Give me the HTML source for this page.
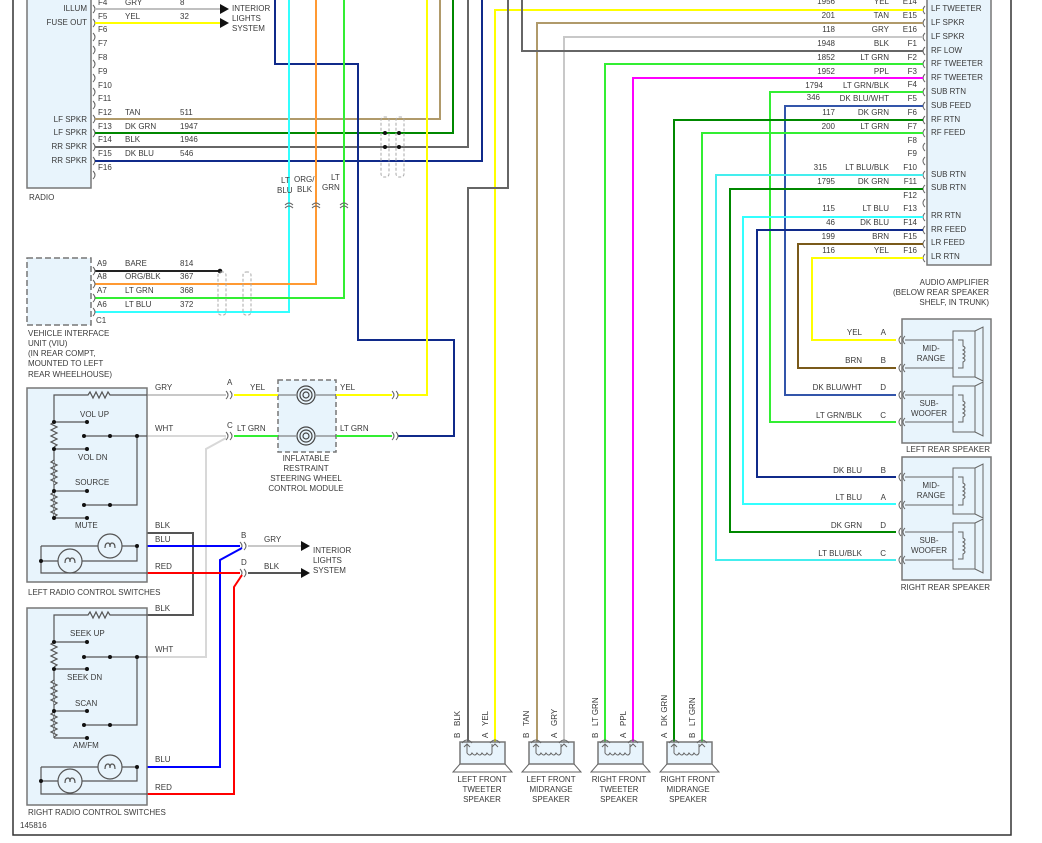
<!DOCTYPE html>
<html><head><meta charset="utf-8"><style>
html,body{margin:0;padding:0;background:#fff;}
svg{display:block;}
text{font-family:"Liberation Sans",sans-serif;font-size:8px;fill:#3a3a3a;}
.w{fill:none;stroke-width:2;}
.g{fill:none;stroke:#666;stroke-width:1;}
.pin{fill:none;stroke:#666;stroke-width:1;}
.box{fill:#e8f4fc;stroke:#777;stroke-width:1.5;}
.r{text-anchor:end;}
.m{text-anchor:middle;}
</style></head><body>
<svg width="1042" height="843" viewBox="0 0 1042 843" xmlns="http://www.w3.org/2000/svg">
<!-- frame -->
<path d="M13,0 V835 H1011 V0" fill="none" stroke="#333" stroke-width="1.5"/>

<!-- RADIO -->
<rect x="27" y="-5" width="64" height="193" class="box"/>
<text x="87" y="11" class="r">ILLUM</text>
<text x="87" y="25" class="r">FUSE OUT</text>
<text x="87" y="122" class="r">LF SPKR</text>
<text x="87" y="135" class="r">LF SPKR</text>
<text x="87" y="149" class="r">RR SPKR</text>
<text x="87" y="163" class="r">RR SPKR</text>
<text x="29" y="200">RADIO</text>
<g class="pin">
<path d="M93,5 q4,4 0,8"/><path d="M93,19 q4,4 0,8"/><path d="M93,33 q4,4 0,8"/><path d="M93,46 q4,4 0,8"/><path d="M93,60 q4,4 0,8"/><path d="M93,74 q4,4 0,8"/><path d="M93,88 q4,4 0,8"/><path d="M93,101 q4,4 0,8"/><path d="M93,115 q4,4 0,8"/><path d="M93,129 q4,4 0,8"/><path d="M93,143 q4,4 0,8"/><path d="M93,157 q4,4 0,8"/><path d="M93,171 q4,4 0,8"/>
</g>
<text x="98" y="5">F4</text><text x="98" y="19">F5</text><text x="98" y="32">F6</text><text x="98" y="46">F7</text><text x="98" y="60">F8</text><text x="98" y="74">F9</text><text x="98" y="88">F10</text><text x="98" y="101">F11</text><text x="98" y="115">F12</text><text x="98" y="129">F13</text><text x="98" y="142">F14</text><text x="98" y="156">F15</text><text x="98" y="170">F16</text>
<text x="125" y="5">GRY</text><text x="180" y="5">8</text>
<text x="125" y="19">YEL</text><text x="180" y="19">32</text>
<text x="125" y="115">TAN</text><text x="180" y="115">511</text>
<text x="125" y="129">DK GRN</text><text x="180" y="129">1947</text>
<text x="125" y="142">BLK</text><text x="180" y="142">1946</text>
<text x="125" y="156">DK BLU</text><text x="180" y="156">546</text>
<path d="M95,9 H222" class="w" stroke="#c0c0c0"/>
<path d="M95,23 H222" class="w" stroke="#ffff00"/>
<path d="M220,4 L229,9 L220,14Z M220,18 L229,23 L220,28Z" fill="#111"/>
<text x="232" y="11">INTERIOR</text><text x="232" y="21">LIGHTS</text><text x="232" y="31">SYSTEM</text>

<!-- radio wires -->
<path d="M95,119 H440 V0" class="w" stroke="#b09a6a"/>
<path d="M95,133 H453 V0" class="w" stroke="#008800"/>
<path d="M95,147 H468 V0" class="w" stroke="#666"/>
<path d="M95,161 H482 V0" class="w" stroke="#102a8a"/>
<path d="M275,0 V64 H358 V340 H454 V436 H398" class="w" stroke="#102a8a"/>
<path d="M289,0 V312 H95" class="w" stroke="#33ffff"/>
<path d="M316,0 V284 H95" class="w" stroke="#ff9933"/>
<path d="M344,0 V298 H95" class="w" stroke="#33ee33"/>
<path d="M95,271 H220" class="w" stroke="#222"/>
<circle cx="220" cy="271" r="2.3" fill="#111"/>
<path d="M427,0 V395 H398" class="w" stroke="#ffff00"/>
<!-- connector dashed at splice -->
<g fill="none" stroke="#aaa" stroke-width="1" stroke-dasharray="3,2">
<rect x="381" y="117" width="8" height="60" rx="3"/><rect x="396" y="117" width="8" height="60" rx="3"/>
<rect x="218" y="272" width="8" height="43" rx="3"/><rect x="243" y="272" width="8" height="43" rx="3"/>
</g>
<circle cx="385" cy="133" r="2" fill="#111"/><circle cx="399" cy="133" r="2" fill="#111"/>
<circle cx="385" cy="147" r="2" fill="#111"/><circle cx="399" cy="147" r="2" fill="#111"/>
<text x="281" y="183">LT</text><text x="277" y="193">BLU</text>
<text x="294" y="182">ORG/</text><text x="297" y="192">BLK</text>
<text x="331" y="180">LT</text><text x="322" y="190">GRN</text>
<g class="pin"><path d="M285,208 q4,-4 8,0 M285,205 q4,-4 8,0"/><path d="M312,208 q4,-4 8,0 M312,205 q4,-4 8,0"/><path d="M340,208 q4,-4 8,0 M340,205 q4,-4 8,0"/></g>

<!-- VIU -->
<rect x="27" y="258" width="64" height="67" fill="#e8f4fc" stroke="#777" stroke-width="1.5" stroke-dasharray="6,3"/>
<g class="pin"><path d="M93,267 q4,4 0,8"/><path d="M93,280 q4,4 0,8"/><path d="M93,294 q4,4 0,8"/><path d="M93,308 q4,4 0,8"/></g>
<text x="97" y="266">A9</text><text x="97" y="279">A8</text><text x="97" y="293">A7</text><text x="97" y="307">A6</text><text x="96" y="323">C1</text>
<text x="125" y="266">BARE</text><text x="180" y="266">814</text>
<text x="125" y="279">ORG/BLK</text><text x="180" y="279">367</text>
<text x="125" y="293">LT GRN</text><text x="180" y="293">368</text>
<text x="125" y="307">LT BLU</text><text x="180" y="307">372</text>
<text x="28" y="336">VEHICLE INTERFACE</text><text x="28" y="346">UNIT (VIU)</text><text x="28" y="356">(IN REAR COMPT,</text><text x="28" y="366">MOUNTED TO LEFT</text><text x="28" y="377">REAR WHEELHOUSE)</text>

<!-- AMP -->
<rect x="927" y="-5" width="64" height="270" class="box"/>
<g id="amp">
<text x="835" y="4" class="r">1956</text><text x="889" y="4" class="r">YEL</text><text x="917" y="4" class="r">E14</text><text x="931" y="11">LF TWEETER</text>
<text x="835" y="18" class="r">201</text><text x="889" y="18" class="r">TAN</text><text x="917" y="18" class="r">E15</text><text x="931" y="25">LF SPKR</text>
<text x="835" y="32" class="r">118</text><text x="889" y="32" class="r">GRY</text><text x="917" y="32" class="r">E16</text><text x="931" y="39">LF SPKR</text>
<text x="835" y="46" class="r">1948</text><text x="889" y="46" class="r">BLK</text><text x="917" y="46" class="r">F1</text><text x="931" y="53">RF LOW</text>
<text x="835" y="60" class="r">1852</text><text x="889" y="60" class="r">LT GRN</text><text x="917" y="60" class="r">F2</text><text x="931" y="66">RF TWEETER</text>
<text x="835" y="74" class="r">1952</text><text x="889" y="74" class="r">PPL</text><text x="917" y="74" class="r">F3</text><text x="931" y="80">RF TWEETER</text>
<text x="823" y="88" class="r">1794</text><text x="889" y="88" class="r">LT GRN/BLK</text><text x="917" y="87" class="r">F4</text><text x="931" y="94">SUB RTN</text>
<text x="820" y="100" class="r">346</text><text x="889" y="101" class="r">DK BLU/WHT</text><text x="917" y="101" class="r">F5</text><text x="931" y="108">SUB FEED</text>
<text x="835" y="115" class="r">117</text><text x="889" y="115" class="r">DK GRN</text><text x="917" y="115" class="r">F6</text><text x="931" y="122">RF RTN</text>
<text x="835" y="129" class="r">200</text><text x="889" y="129" class="r">LT GRN</text><text x="917" y="129" class="r">F7</text><text x="931" y="135">RF FEED</text>
<text x="917" y="143" class="r">F8</text>
<text x="917" y="156" class="r">F9</text>
<text x="827" y="170" class="r">315</text><text x="889" y="170" class="r">LT BLU/BLK</text><text x="917" y="170" class="r">F10</text><text x="931" y="177">SUB RTN</text>
<text x="835" y="184" class="r">1795</text><text x="889" y="184" class="r">DK GRN</text><text x="917" y="184" class="r">F11</text><text x="931" y="190">SUB RTN</text>
<text x="917" y="198" class="r">F12</text>
<text x="835" y="211" class="r">115</text><text x="889" y="211" class="r">LT BLU</text><text x="917" y="211" class="r">F13</text><text x="931" y="218">RR RTN</text>
<text x="835" y="225" class="r">46</text><text x="889" y="225" class="r">DK BLU</text><text x="917" y="225" class="r">F14</text><text x="931" y="232">RR FEED</text>
<text x="835" y="239" class="r">199</text><text x="889" y="239" class="r">BRN</text><text x="917" y="239" class="r">F15</text><text x="931" y="245">LR FEED</text>
<text x="835" y="253" class="r">116</text><text x="889" y="253" class="r">YEL</text><text x="917" y="253" class="r">F16</text><text x="931" y="259">LR RTN</text>
</g>
<g class="pin">
<path d="M925,6 q-4,4 0,8"/><path d="M925,19 q-4,4 0,8"/><path d="M925,33 q-4,4 0,8"/><path d="M925,47 q-4,4 0,8"/><path d="M925,60 q-4,4 0,8"/><path d="M925,74 q-4,4 0,8"/><path d="M925,88 q-4,4 0,8"/><path d="M925,102 q-4,4 0,8"/><path d="M925,116 q-4,4 0,8"/><path d="M925,129 q-4,4 0,8"/><path d="M925,143 q-4,4 0,8"/><path d="M925,157 q-4,4 0,8"/><path d="M925,171 q-4,4 0,8"/><path d="M925,185 q-4,4 0,8"/><path d="M925,199 q-4,4 0,8"/><path d="M925,213 q-4,4 0,8"/><path d="M925,226 q-4,4 0,8"/><path d="M925,240 q-4,4 0,8"/><path d="M925,254 q-4,4 0,8"/>
</g>
<text x="989" y="285" class="r">AUDIO AMPLIFIER</text>
<text x="989" y="295" class="r">(BELOW REAR SPEAKER</text>
<text x="989" y="305" class="r">SHELF, IN TRUNK)</text>

<!-- amp wires -->
<path d="M923,10 H495 V742" class="w" stroke="#ffff00"/>
<path d="M923,23 H537 V742" class="w" stroke="#b09a6a"/>
<path d="M923,37 H564 V742" class="w" stroke="#c8c8c8"/>
<path d="M923,51 H522 V0" class="w" stroke="#666"/>
<path d="M508,0 V188 H468 V742" class="w" stroke="#666"/>
<path d="M923,64 H605 V742" class="w" stroke="#33ee33"/>
<path d="M923,78 H633 V742" class="w" stroke="#ff00ff"/>
<path d="M923,92 H770 V422 H896" class="w" stroke="#33ee33"/>
<path d="M923,106 H785 V395 H896" class="w" stroke="#3355aa"/>
<path d="M923,120 H674 V742" class="w" stroke="#008800"/>
<path d="M923,133 H702 V742" class="w" stroke="#33ee33"/>
<path d="M923,175 H716 V560 H896" class="w" stroke="#44eeee"/>
<path d="M923,189 H730 V532 H896" class="w" stroke="#008800"/>
<path d="M923,217 H743 V504 H896" class="w" stroke="#33ffff"/>
<path d="M923,230 H757 V477 H896" class="w" stroke="#102a8a"/>
<path d="M923,244 H798 V368 H896" class="w" stroke="#7a5a1a"/>
<path d="M923,258 H812 V340 H896" class="w" stroke="#ffff00"/>

<!-- REAR SPEAKERS -->
<g id="rs">
<rect x="902" y="319" width="89" height="124" class="box"/>
<g class="g">
<path d="M901,336 q-4,4 0,8 M905,336 q-4,4 0,8 M905,340 H953"/>
<path d="M901,364 q-4,4 0,8 M905,364 q-4,4 0,8 M905,368 H953"/>
<path d="M901,391 q-4,4 0,8 M905,391 q-4,4 0,8 M905,395 H953"/>
<path d="M901,418 q-4,4 0,8 M905,418 q-4,4 0,8 M905,422 H953"/>
<path d="M953,331 H975 V377 H953Z M975,331 L983,327 V381 L975,377"/>
<path d="M953,386 H975 V432 H953Z M975,386 L983,382 V436 L975,432"/>
<path d="M958,340 H963 V346 q4,2 0,4 q4,2 0,4 q4,2 0,4 q4,2 0,4 V368 H958"/>
<path d="M958,395 H963 V401 q4,2 0,4 q4,2 0,4 q4,2 0,4 q4,2 0,4 V422 H958"/>
</g>
<text x="931" y="351" class="m">MID-</text><text x="931" y="361" class="m">RANGE</text>
<text x="929" y="406" class="m">SUB-</text><text x="929" y="416" class="m">WOOFER</text>
</g>
<g transform="translate(0,137)">
<rect x="902" y="320" width="89" height="123" class="box"/>
<g class="g">
<path d="M901,336 q-4,4 0,8 M905,336 q-4,4 0,8 M905,340 H953"/>
<path d="M901,364 q-4,4 0,8 M905,364 q-4,4 0,8 M905,368 H953"/>
<path d="M901,391 q-4,4 0,8 M905,391 q-4,4 0,8 M905,395 H953"/>
<path d="M901,419 q-4,4 0,8 M905,419 q-4,4 0,8 M905,423 H953"/>
<path d="M953,331 H975 V377 H953Z M975,331 L983,327 V381 L975,377"/>
<path d="M953,386 H975 V432 H953Z M975,386 L983,382 V436 L975,432"/>
<path d="M958,340 H963 V346 q4,2 0,4 q4,2 0,4 q4,2 0,4 q4,2 0,4 V368 H958"/>
<path d="M958,395 H963 V401 q4,2 0,4 q4,2 0,4 q4,2 0,4 q4,2 0,4 V422 H958"/>
</g>
<text x="931" y="351" class="m">MID-</text><text x="931" y="361" class="m">RANGE</text>
<text x="929" y="406" class="m">SUB-</text><text x="929" y="416" class="m">WOOFER</text>
</g>
<text x="862" y="335" class="r">YEL</text><text x="886" y="335" class="r">A</text>
<text x="862" y="363" class="r">BRN</text><text x="886" y="363" class="r">B</text>
<text x="862" y="390" class="r">DK BLU/WHT</text><text x="886" y="390" class="r">D</text>
<text x="862" y="418" class="r">LT GRN/BLK</text><text x="886" y="418" class="r">C</text>
<text x="862" y="473" class="r">DK BLU</text><text x="886" y="473" class="r">B</text>
<text x="862" y="500" class="r">LT BLU</text><text x="886" y="500" class="r">A</text>
<text x="862" y="528" class="r">DK GRN</text><text x="886" y="528" class="r">D</text>
<text x="862" y="556" class="r">LT BLU/BLK</text><text x="886" y="556" class="r">C</text>
<text x="990" y="452" class="r">LEFT REAR SPEAKER</text>
<text x="990" y="590" class="r">RIGHT REAR SPEAKER</text>

<!-- FRONT SPEAKERS -->
<g id="fs">
<rect x="460" y="742" width="45" height="22" class="box"/>
<path d="M460,764 L453,772 H512 L505,764" fill="none" stroke="#666"/>
<path d="M462,743 q5,-6 10,0 M490,743 q5,-6 10,0" class="g"/>
<path d="M467,744 V753 q3,4 5,0 q3,4 5,0 q3,4 5,0 q3,4 5,0 q3,4 5,0 V744 M464,747 l3,-3 l3,3 M492,747 l3,-3 l3,3" class="g"/>
</g>
<g transform="translate(69,0)">
<rect x="460" y="742" width="45" height="22" class="box"/>
<path d="M460,764 L453,772 H512 L505,764" fill="none" stroke="#666"/>
<path d="M462,743 q5,-6 10,0 M490,743 q5,-6 10,0" class="g"/>
<path d="M467,744 V753 q3,4 5,0 q3,4 5,0 q3,4 5,0 q3,4 5,0 q3,4 5,0 V744 M464,747 l3,-3 l3,3 M492,747 l3,-3 l3,3" class="g"/>
</g>
<g transform="translate(138,0)">
<rect x="460" y="742" width="45" height="22" class="box"/>
<path d="M460,764 L453,772 H512 L505,764" fill="none" stroke="#666"/>
<path d="M462,743 q5,-6 10,0 M490,743 q5,-6 10,0" class="g"/>
<path d="M467,744 V753 q3,4 5,0 q3,4 5,0 q3,4 5,0 q3,4 5,0 q3,4 5,0 V744 M464,747 l3,-3 l3,3 M492,747 l3,-3 l3,3" class="g"/>
</g>
<g transform="translate(207,0)">
<rect x="460" y="742" width="45" height="22" class="box"/>
<path d="M460,764 L453,772 H512 L505,764" fill="none" stroke="#666"/>
<path d="M462,743 q5,-6 10,0 M490,743 q5,-6 10,0" class="g"/>
<path d="M467,744 V753 q3,4 5,0 q3,4 5,0 q3,4 5,0 q3,4 5,0 q3,4 5,0 V744 M464,747 l3,-3 l3,3 M492,747 l3,-3 l3,3" class="g"/>
</g>
<g>
<text transform="translate(460,738) rotate(-90)">B</text><text transform="translate(460,726) rotate(-90)">BLK</text>
<text transform="translate(488,738) rotate(-90)">A</text><text transform="translate(488,726) rotate(-90)">YEL</text>
<text transform="translate(529,738) rotate(-90)">B</text><text transform="translate(529,726) rotate(-90)">TAN</text>
<text transform="translate(557,738) rotate(-90)">A</text><text transform="translate(557,726) rotate(-90)">GRY</text>
<text transform="translate(598,738) rotate(-90)">B</text><text transform="translate(598,726) rotate(-90)">LT GRN</text>
<text transform="translate(626,738) rotate(-90)">A</text><text transform="translate(626,726) rotate(-90)">PPL</text>
<text transform="translate(667,738) rotate(-90)">A</text><text transform="translate(667,726) rotate(-90)">DK GRN</text>
<text transform="translate(695,738) rotate(-90)">B</text><text transform="translate(695,726) rotate(-90)">LT GRN</text>
</g>
<text x="482" y="782" class="m">LEFT FRONT</text><text x="482" y="792" class="m">TWEETER</text><text x="482" y="802" class="m">SPEAKER</text>
<text x="551" y="782" class="m">LEFT FRONT</text><text x="551" y="792" class="m">MIDRANGE</text><text x="551" y="802" class="m">SPEAKER</text>
<text x="619" y="782" class="m">RIGHT FRONT</text><text x="619" y="792" class="m">TWEETER</text><text x="619" y="802" class="m">SPEAKER</text>
<text x="688" y="782" class="m">RIGHT FRONT</text><text x="688" y="792" class="m">MIDRANGE</text><text x="688" y="802" class="m">SPEAKER</text>

<!-- STEERING WHEEL MODULE -->
<rect x="278" y="380" width="58" height="72" fill="#e8f4fc" stroke="#777" stroke-width="1.5" stroke-dasharray="5,3"/>
<path d="M147,395 H226" class="w" stroke="#c8c8c8"/>
<path d="M234,395 H278" class="w" stroke="#ffff00"/>
<path d="M336,395 H392" class="w" stroke="#ffff00"/>
<path d="M147,436 H226" class="w" stroke="#d8d8d8"/>
<path d="M234,436 H278" class="w" stroke="#33ee33"/>
<path d="M336,436 H392" class="w" stroke="#33ee33"/>
<path d="M278,395 H296 M316,395 H336 M278,436 H296 M316,436 H336" class="g"/>
<g fill="none" stroke="#444" stroke-width="1.2">
<circle cx="306" cy="395" r="9"/><circle cx="306" cy="395" r="6"/><circle cx="306" cy="395" r="3"/>
<circle cx="306" cy="436" r="9"/><circle cx="306" cy="436" r="6"/><circle cx="306" cy="436" r="3"/>
</g>
<g class="pin"><path d="M226,391 q4,4 0,8 M230,391 q4,4 0,8"/><path d="M226,432 q4,4 0,8 M230,432 q4,4 0,8"/>
<path d="M392,391 q4,4 0,8 M396,391 q4,4 0,8"/><path d="M392,432 q4,4 0,8 M396,432 q4,4 0,8"/>
<path d="M240,542 q4,4 0,8 M244,542 q4,4 0,8"/><path d="M240,569 q4,4 0,8 M244,569 q4,4 0,8"/></g>
<text x="227" y="385">A</text><text x="227" y="428">C</text>
<text x="155" y="390">GRY</text><text x="250" y="390">YEL</text><text x="340" y="390">YEL</text>
<text x="155" y="431">WHT</text><text x="237" y="431">LT GRN</text><text x="340" y="431">LT GRN</text>
<text x="306" y="461" class="m">INFLATABLE</text><text x="306" y="471" class="m">RESTRAINT</text><text x="306" y="481" class="m">STEERING WHEEL</text><text x="306" y="491" class="m">CONTROL MODULE</text>

<!-- switch wiring -->
<path d="M147,657 H206 V449 L226,438" class="w" stroke="#d8d8d8"/>
<path d="M54,518 V533 H193 V615 H147" class="w" stroke="#555"/>
<path d="M147,546 H240" class="w" stroke="#0000ff"/>
<path d="M242,548 L220,560 V767 H147" class="w" stroke="#0000ff"/>
<path d="M147,573 H240" class="w" stroke="#ff0000"/>
<path d="M242,575 L234,587 V794 H147" class="w" stroke="#ff0000"/>
<path d="M248,546 H302" class="w" stroke="#c8c8c8"/>
<path d="M248,573 H302" class="w" stroke="#555"/>
<path d="M301,541 L310,546 L301,551Z M301,568 L310,573 L301,578Z" fill="#111"/>
<text x="241" y="538">B</text><text x="241" y="565">D</text>
<text x="264" y="542">GRY</text><text x="264" y="569">BLK</text>
<text x="313" y="553">INTERIOR</text><text x="313" y="563">LIGHTS</text><text x="313" y="573">SYSTEM</text>
<text x="155" y="528">BLK</text><text x="155" y="542">BLU</text><text x="155" y="569">RED</text>
<text x="155" y="611">BLK</text><text x="155" y="652">WHT</text><text x="155" y="762">BLU</text><text x="155" y="790">RED</text>

<!-- LEFT SWITCHES -->
<rect x="27" y="388" width="120" height="194" class="box"/>
<rect x="27" y="608" width="120" height="197" class="box"/>
<g id="sw">
<g fill="none" stroke="#555" stroke-width="1.2">
<path d="M54,518 V449 M54,422 V395 H88 l2,-3 l3,6 l3,-6 l3,6 l3,-6 l3,6 l3,-6 l2,3 H147"/>
<path d="M54,422 l-3,2 l6,3 l-6,3 l6,3 l-6,3 l6,3 l-6,3 l6,3 l-3,2" fill="#e8f4fc"/>
<path d="M54,460 l-3,2 l6,3 l-6,3 l6,3 l-6,3 l6,3 l-6,3 l6,3 l-3,2" fill="#e8f4fc"/>
<path d="M54,492 l-3,2 l6,3 l-6,3 l6,3 l-6,3 l6,3 l-6,3 l6,3 l-3,2" fill="#e8f4fc"/>
<path d="M54,422 H87 M54,449 H87 M54,491 H87 M54,518 H87"/>
<path d="M85,436 H147 M85,505 H137 V436"/>
<path d="M41,546 V573 H147 M41,546 H98 M122,546 H137 V561 H82 M41,561 H58"/>
<circle cx="110" cy="546" r="12"/><circle cx="70" cy="561" r="12"/>
<path d="M105,548 q0,-5 3,-5 q2,0 2,4 q0,-4 2,-4 q3,0 3,5 M65,563 q0,-5 3,-5 q2,0 2,4 q0,-4 2,-4 q3,0 3,5"/>
</g>
<g fill="#111">
<circle cx="54" cy="422" r="2"/><circle cx="87" cy="422" r="2"/><circle cx="54" cy="449" r="2"/><circle cx="87" cy="449" r="2"/>
<circle cx="54" cy="491" r="2"/><circle cx="87" cy="491" r="2"/><circle cx="54" cy="518" r="2"/><circle cx="87" cy="518" r="2"/>
<circle cx="84" cy="436" r="2"/><circle cx="110" cy="436" r="2"/><circle cx="137" cy="436" r="2"/>
<circle cx="84" cy="505" r="2"/><circle cx="110" cy="505" r="2"/>
<circle cx="137" cy="546" r="2"/><circle cx="41" cy="561" r="2"/>
</g>
</g>
<g transform="translate(0,220)">
<g fill="none" stroke="#555" stroke-width="1.2">
<path d="M54,518 V449 M54,422 V395 H88 l2,-3 l3,6 l3,-6 l3,6 l3,-6 l3,6 l3,-6 l2,3 H147"/>
<path d="M54,422 l-3,2 l6,3 l-6,3 l6,3 l-6,3 l6,3 l-6,3 l6,3 l-3,2" fill="#e8f4fc"/>
<path d="M54,460 l-3,2 l6,3 l-6,3 l6,3 l-6,3 l6,3 l-6,3 l6,3 l-3,2" fill="#e8f4fc"/>
<path d="M54,492 l-3,2 l6,3 l-6,3 l6,3 l-6,3 l6,3 l-6,3 l6,3 l-3,2" fill="#e8f4fc"/>
<path d="M54,422 H87 M54,449 H87 M54,491 H87 M54,518 H87"/>
<path d="M85,437 H147 M85,505 H137 V437"/>
<path d="M41,547 V574 H147 M41,547 H98 M122,547 H137 V561 H82 M41,561 H58"/>
<circle cx="110" cy="547" r="12"/><circle cx="70" cy="561" r="12"/>
<path d="M105,549 q0,-5 3,-5 q2,0 2,4 q0,-4 2,-4 q3,0 3,5 M65,563 q0,-5 3,-5 q2,0 2,4 q0,-4 2,-4 q3,0 3,5"/>
</g>
<g fill="#111">
<circle cx="54" cy="422" r="2"/><circle cx="87" cy="422" r="2"/><circle cx="54" cy="449" r="2"/><circle cx="87" cy="449" r="2"/>
<circle cx="54" cy="491" r="2"/><circle cx="87" cy="491" r="2"/><circle cx="87" cy="518" r="2"/>
<circle cx="84" cy="437" r="2"/><circle cx="110" cy="437" r="2"/><circle cx="137" cy="437" r="2"/>
<circle cx="84" cy="505" r="2"/><circle cx="110" cy="505" r="2"/>
<circle cx="137" cy="547" r="2"/><circle cx="41" cy="561" r="2"/>
</g>
</g>
<text x="80" y="417">VOL UP</text><text x="78" y="460">VOL DN</text><text x="75" y="485">SOURCE</text><text x="75" y="528">MUTE</text>
<text x="70" y="636">SEEK UP</text><text x="67" y="680">SEEK DN</text><text x="75" y="706">SCAN</text><text x="73" y="748">AM/FM</text>
<text x="28" y="595">LEFT RADIO CONTROL SWITCHES</text>
<text x="28" y="815">RIGHT RADIO CONTROL SWITCHES</text>
<text x="20" y="828">145816</text>
</svg>
</body></html>
